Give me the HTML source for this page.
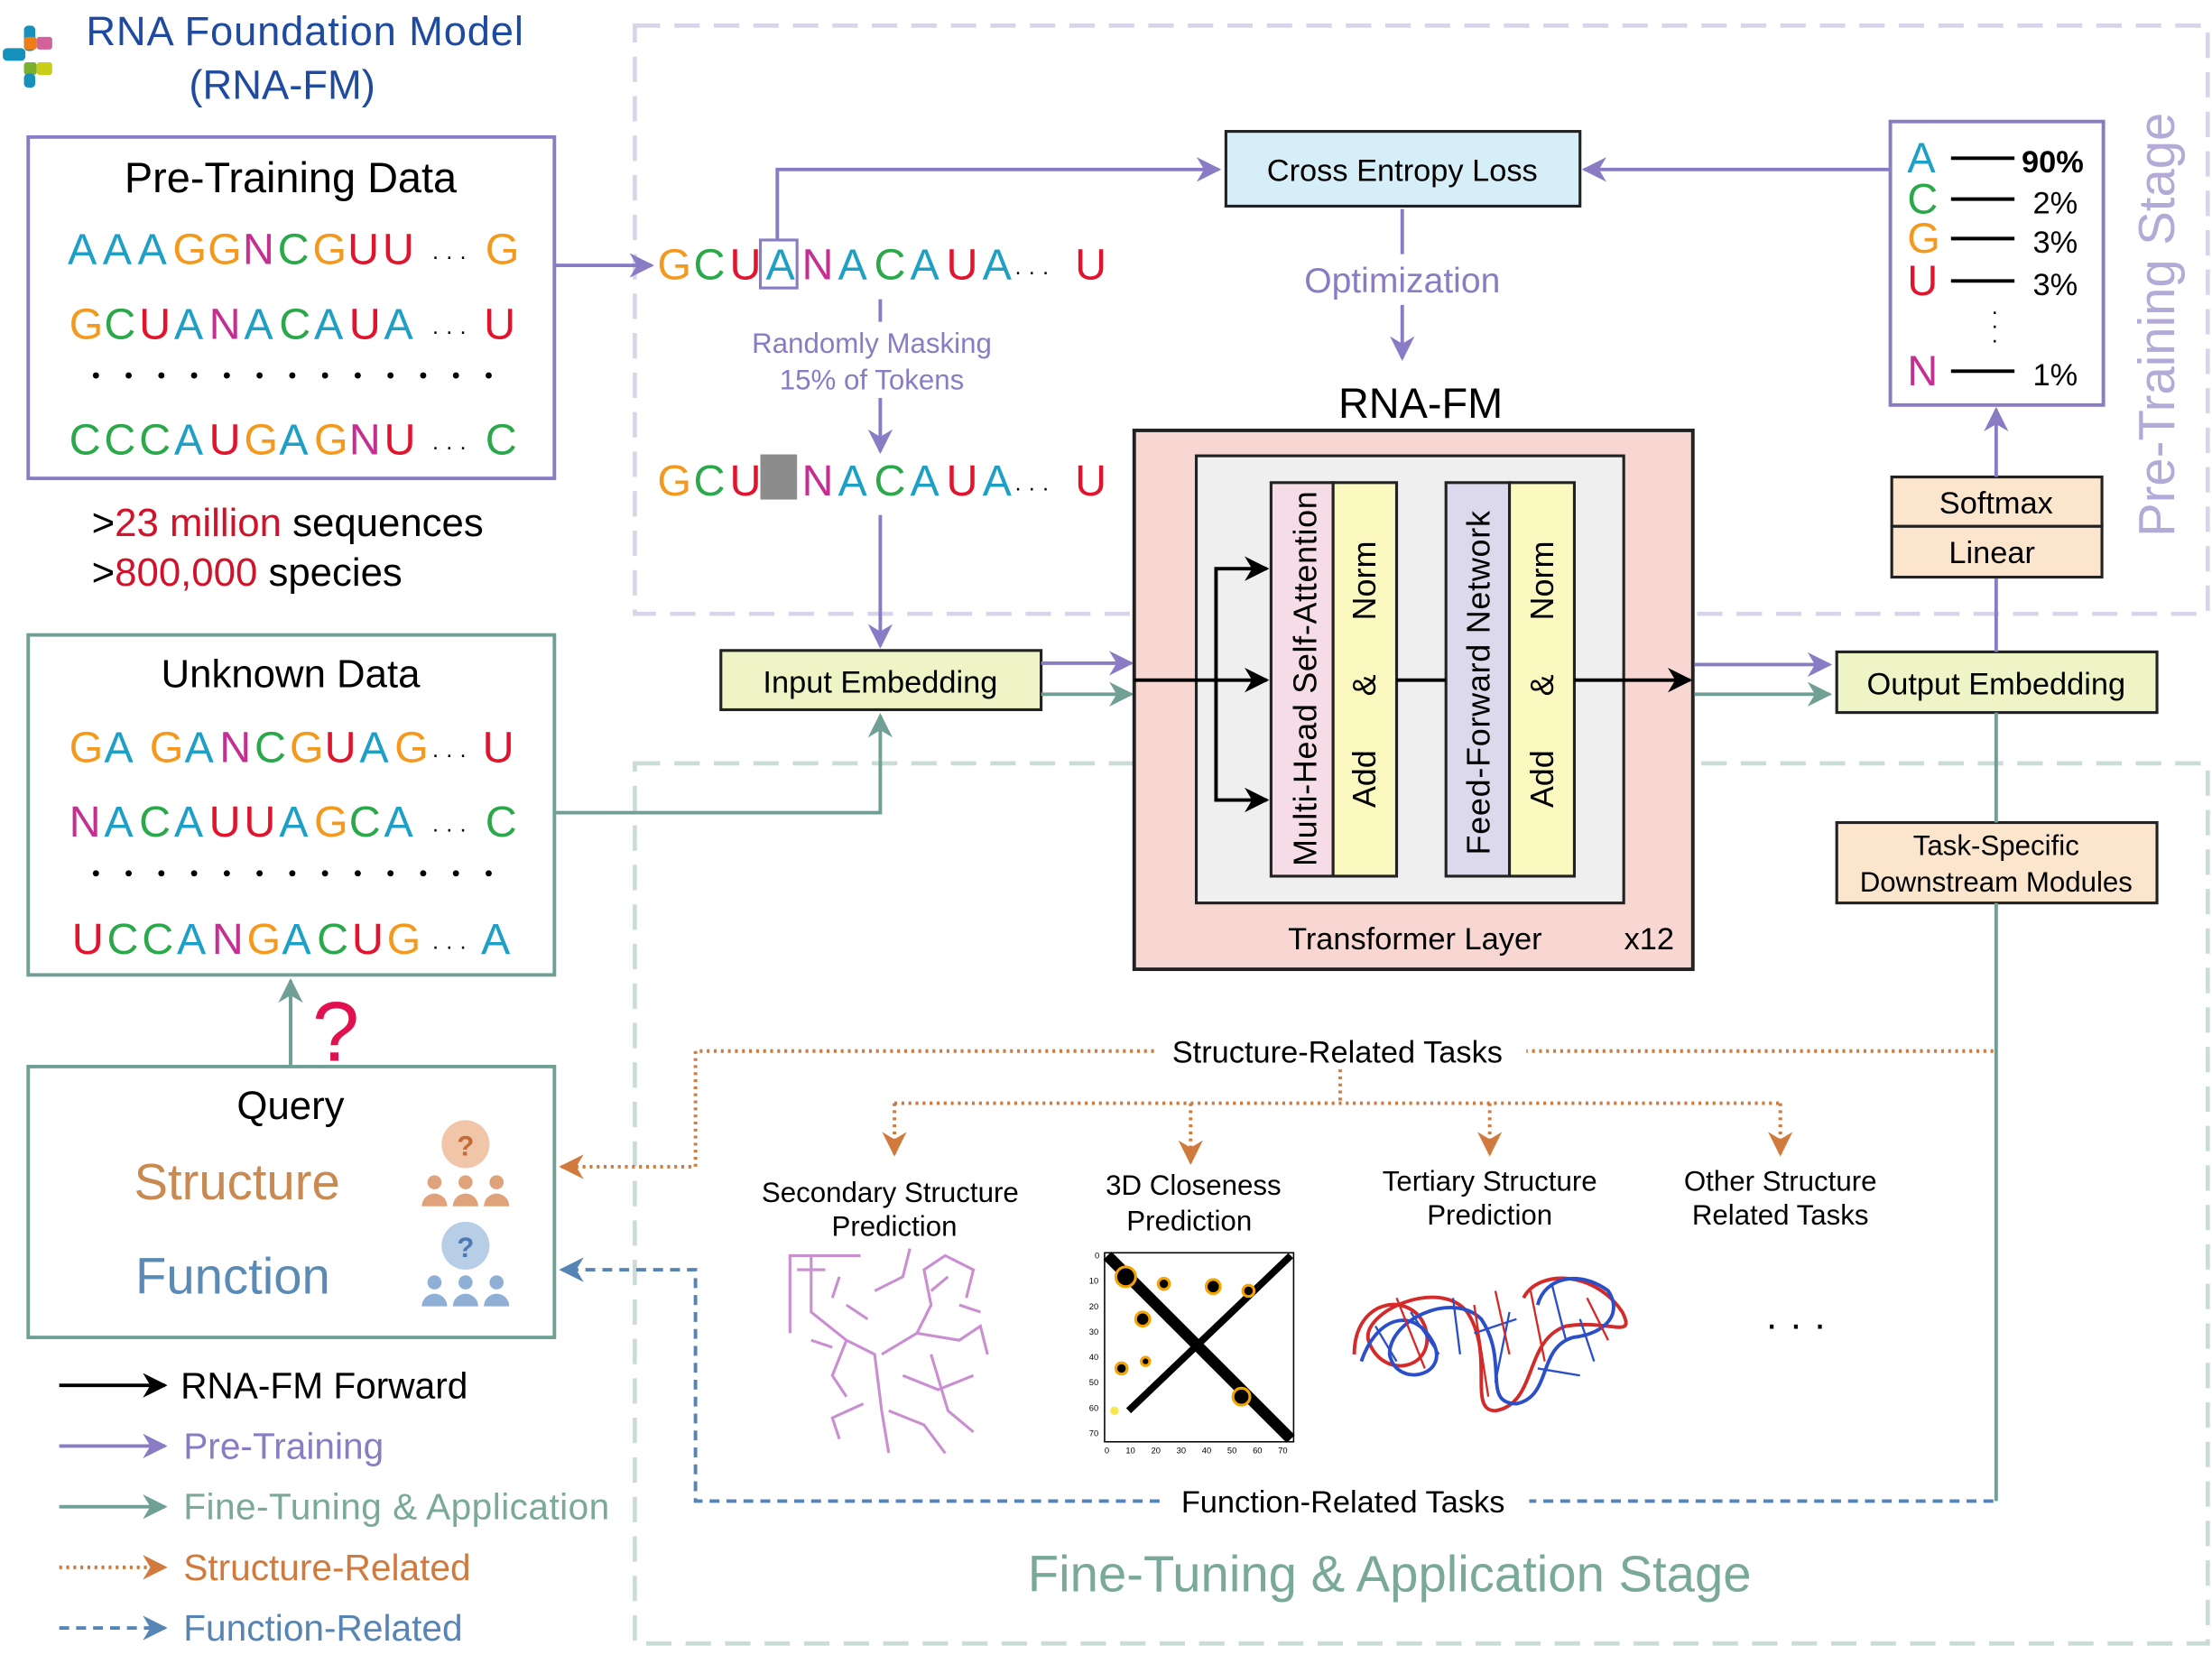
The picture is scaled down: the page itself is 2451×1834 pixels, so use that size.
<!DOCTYPE html>
<html><head><meta charset="utf-8"><style>
html,body{margin:0;padding:0;background:#fff;}
svg{display:block;font-family:"Liberation Sans",sans-serif;}
</style></head><body>
<svg id="root" width="2451" height="1834" viewBox="0 0 1568 1173" xmlns="http://www.w3.org/2000/svg">
<defs>
<marker id="mk" viewBox="0 0 10 10" refX="9" refY="5" markerWidth="7" markerHeight="7" orient="auto-start-reverse"><path d="M0,0 L10,5 L0,10 L3,5 z" fill="#000"/></marker>
<marker id="mp" viewBox="0 0 10 10" refX="9" refY="5" markerWidth="7" markerHeight="7" orient="auto-start-reverse"><path d="M0,0 L10,5 L0,10 L3,5 z" fill="#8a7cc4"/></marker>
<marker id="mt" viewBox="0 0 10 10" refX="9" refY="5" markerWidth="7" markerHeight="7" orient="auto-start-reverse"><path d="M0,0 L10,5 L0,10 L3,5 z" fill="#6f9f95"/></marker>
<marker id="mo" viewBox="0 0 10 10" refX="9" refY="5" markerWidth="7" markerHeight="7" orient="auto-start-reverse"><path d="M0,0 L10,5 L0,10 L3,5 z" fill="#d07a3d"/></marker>
<marker id="mb" viewBox="0 0 10 10" refX="9" refY="5" markerWidth="7" markerHeight="7" orient="auto-start-reverse"><path d="M0,0 L10,5 L0,10 L3,5 z" fill="#5685b5"/></marker>
</defs>

<rect x="450" y="18" width="1115" height="417" fill="none" stroke="#d8d5ea" stroke-width="3" stroke-dasharray="18,10"/>
<rect x="450" y="541" width="1115" height="624" fill="none" stroke="#c9dcd8" stroke-width="3" stroke-dasharray="18,10"/>
<text x="1541" y="230" font-size="36" fill="#b3aad8" text-anchor="middle" transform="rotate(-90 1541 230)">Pre-Training Stage</text>
<text x="985" y="1128" font-size="36" fill="#7aa89a" text-anchor="middle">Fine-Tuning &amp; Application Stage</text>

<g>
<rect x="17" y="18" width="8" height="18" rx="3" fill="#1591bb"/>
<rect x="2" y="34" width="16" height="9" rx="3" fill="#1591bb"/>
<rect x="17" y="26" width="9" height="9" rx="2" fill="#ef7d17"/>
<rect x="26" y="26" width="11" height="9" rx="2" fill="#d4629a"/>
<rect x="17" y="44" width="9" height="9" rx="2" fill="#7bb02c"/>
<rect x="26" y="44" width="11" height="9" rx="2" fill="#c7cf1a"/>
<rect x="17" y="52" width="8" height="10" rx="3" fill="#1591bb"/>
</g>
<text x="216" y="32" font-size="29" fill="#1e4aa0" text-anchor="middle" textLength="310">RNA Foundation Model</text>
<text x="200" y="70" font-size="29" fill="#1e4aa0" text-anchor="middle">(RNA-FM)</text>

<rect x="20" y="97" width="373" height="242" fill="none" stroke="#8a7cc4" stroke-width="2.5"/>
<text x="206" y="136" font-size="30" text-anchor="middle">Pre-Training Data</text>
<text x="65" y="380" font-size="28">&gt;<tspan fill="#d0122a">23 million</tspan> sequences</text>
<text x="65" y="415" font-size="28">&gt;<tspan fill="#d0122a">800,000</tspan> species</text>

<rect x="20" y="450" width="373" height="241" fill="none" stroke="#6f9f95" stroke-width="2.5"/>
<text x="206" y="487" font-size="28" text-anchor="middle">Unknown Data</text>

<g id="seqs"></g>

<line x1="393" y1="188" x2="462" y2="188" stroke="#8a7cc4" stroke-width="2.5" marker-end="url(#mp)"/>
<rect x="539" y="170" width="26" height="34" fill="none" stroke="#8a7cc4" stroke-width="2"/>
<polyline points="551,170 551,120 864,120" fill="none" stroke="#8a7cc4" stroke-width="2.5" marker-end="url(#mp)"/>
<line x1="624" y1="212" x2="624" y2="228" stroke="#8a7cc4" stroke-width="2.5"/>
<text x="618" y="250" font-size="20" fill="#8a7cc4" text-anchor="middle">Randomly Masking</text>
<text x="618" y="276" font-size="20" fill="#8a7cc4" text-anchor="middle">15% of Tokens</text>
<line x1="624" y1="282" x2="624" y2="320" stroke="#8a7cc4" stroke-width="2.5" marker-end="url(#mp)"/>
<rect x="539" y="322" width="26" height="32" fill="#8c8c8c"/>
<line x1="624" y1="365" x2="624" y2="458" stroke="#8a7cc4" stroke-width="2.5" marker-end="url(#mp)"/>
<polyline points="393,576 624,576 624,507" fill="none" stroke="#6f9f95" stroke-width="2.5" marker-end="url(#mt)"/>

<rect x="511" y="461" width="227" height="42" fill="#eef4c6" stroke="#222" stroke-width="2"/>
<text x="624" y="491" font-size="22" text-anchor="middle">Input Embedding</text>
<line x1="738" y1="470" x2="802" y2="470" stroke="#8a7cc4" stroke-width="2.5" marker-end="url(#mp)"/>
<line x1="738" y1="492" x2="802" y2="492" stroke="#6f9f95" stroke-width="2.5" marker-end="url(#mt)"/>

<rect x="869" y="93" width="251" height="53" fill="#d6eef7" stroke="#222" stroke-width="2"/>
<text x="994" y="128" font-size="22" text-anchor="middle">Cross Entropy Loss</text>
<line x1="1340" y1="120" x2="1123" y2="120" stroke="#8a7cc4" stroke-width="2.5" marker-end="url(#mp)"/>
<line x1="994" y1="148" x2="994" y2="180" stroke="#8a7cc4" stroke-width="2.5"/>
<text x="994" y="207" font-size="25" fill="#8a7cc4" text-anchor="middle">Optimization</text>
<line x1="994" y1="216" x2="994" y2="254" stroke="#8a7cc4" stroke-width="2.5" marker-end="url(#mp)"/>

<text x="1007" y="296" font-size="30" text-anchor="middle">RNA-FM</text>
<rect x="804" y="305" width="396" height="382" fill="#f8d7d3" stroke="#222" stroke-width="2.5"/>
<rect x="848" y="323" width="303" height="317" fill="#efefef" stroke="#222" stroke-width="2"/>
<rect x="901" y="342" width="44" height="279" fill="#f6dce7" stroke="#222" stroke-width="2"/>
<rect x="945" y="342" width="45" height="279" fill="#fbf8c0" stroke="#222" stroke-width="2"/>
<rect x="1025" y="342" width="45" height="279" fill="#dcd9ec" stroke="#222" stroke-width="2"/>
<rect x="1070" y="342" width="46" height="279" fill="#fbf8c0" stroke="#222" stroke-width="2"/>
<text transform="translate(933 481) rotate(-90)" font-size="23" text-anchor="middle" textLength="266">Multi-Head Self-Attention</text>
<text transform="translate(975 478) rotate(-90)" font-size="23" text-anchor="middle" xml:space="preserve">Add      &amp;      Norm</text>
<text transform="translate(1056 484) rotate(-90)" font-size="23" text-anchor="middle" textLength="244">Feed-Forward Network</text>
<text transform="translate(1101 478) rotate(-90)" font-size="23" text-anchor="middle" xml:space="preserve">Add      &amp;      Norm</text>
<text x="1003" y="673" font-size="22" text-anchor="middle">Transformer Layer</text>
<text x="1169" y="673" font-size="22" text-anchor="middle">x12</text>
<line x1="804" y1="482" x2="898" y2="482" stroke="#000" stroke-width="2.5" marker-end="url(#mk)"/>
<polyline points="862,482 862,403 898,403" fill="none" stroke="#000" stroke-width="2.5" marker-end="url(#mk)"/>
<polyline points="862,482 862,567 898,567" fill="none" stroke="#000" stroke-width="2.5" marker-end="url(#mk)"/>
<line x1="990" y1="482" x2="1025" y2="482" stroke="#000" stroke-width="2.5"/>
<line x1="1116" y1="482" x2="1198" y2="482" stroke="#000" stroke-width="2.5" marker-end="url(#mk)"/>
<line x1="1201" y1="471" x2="1297" y2="471" stroke="#8a7cc4" stroke-width="2.5" marker-end="url(#mp)"/>
<line x1="1201" y1="492" x2="1297" y2="492" stroke="#6f9f95" stroke-width="2.5" marker-end="url(#mt)"/>

<rect x="1302" y="462" width="227" height="43" fill="#eef4c6" stroke="#222" stroke-width="2"/>
<text x="1415" y="492" font-size="22" text-anchor="middle">Output Embedding</text>
<line x1="1415" y1="462" x2="1415" y2="410" stroke="#8a7cc4" stroke-width="2.5"/>
<rect x="1341" y="338" width="149" height="35" fill="#fbe5cc" stroke="#222" stroke-width="2"/>
<rect x="1341" y="373" width="149" height="36" fill="#fbe5cc" stroke="#222" stroke-width="2"/>
<text x="1415" y="364" font-size="22" text-anchor="middle">Softmax</text>
<text x="1412" y="399" font-size="22" text-anchor="middle">Linear</text>
<line x1="1415" y1="338" x2="1415" y2="290" stroke="#8a7cc4" stroke-width="2.5" marker-end="url(#mp)"/>
<rect x="1340" y="86" width="151" height="201" fill="none" stroke="#8a7cc4" stroke-width="2.5"/>
<g id="probs"></g>
<text x="1414" y="226" font-size="16" text-anchor="middle">·</text>
<text x="1414" y="236" font-size="16" text-anchor="middle">·</text>
<text x="1414" y="246" font-size="16" text-anchor="middle">·</text>

<rect x="1302" y="583" width="227" height="57" fill="#fbe5cc" stroke="#222" stroke-width="2"/>
<text x="1415" y="606" font-size="20" text-anchor="middle">Task-Specific</text>
<text x="1415" y="632" font-size="20" text-anchor="middle">Downstream Modules</text>
<line x1="1415" y1="505" x2="1415" y2="583" stroke="#6f9f95" stroke-width="2.5"/>
<line x1="1415" y1="640" x2="1415" y2="1064" stroke="#6f9f95" stroke-width="2.5"/>

<polyline points="1413,745 1082,745" fill="none" stroke="#d07a3d" stroke-width="2.5" stroke-dasharray="2,3"/>
<polyline points="818,745 493,745 493,827 398,827" fill="none" stroke="#d07a3d" stroke-width="2.5" stroke-dasharray="2,3" marker-end="url(#mo)"/>
<text x="948" y="753" font-size="22" text-anchor="middle">Structure-Related Tasks</text>
<line x1="950" y1="758" x2="950" y2="782" stroke="#d07a3d" stroke-width="2.5" stroke-dasharray="2,3"/>
<line x1="634" y1="782" x2="1262" y2="782" stroke="#d07a3d" stroke-width="2.5" stroke-dasharray="2,3"/>
<line x1="634" y1="782" x2="634" y2="818" stroke="#d07a3d" stroke-width="2.5" stroke-dasharray="2,3" marker-end="url(#mo)"/>
<line x1="844" y1="782" x2="844" y2="824" stroke="#d07a3d" stroke-width="2.5" stroke-dasharray="2,3" marker-end="url(#mo)"/>
<line x1="1056" y1="782" x2="1056" y2="818" stroke="#d07a3d" stroke-width="2.5" stroke-dasharray="2,3" marker-end="url(#mo)"/>
<line x1="1262" y1="782" x2="1262" y2="818" stroke="#d07a3d" stroke-width="2.5" stroke-dasharray="2,3" marker-end="url(#mo)"/>
<g font-size="20" text-anchor="middle">
<text x="631" y="852">Secondary Structure</text>
<text x="634" y="876">Prediction</text>
<text x="846" y="847">3D Closeness</text>
<text x="843" y="872">Prediction</text>
<text x="1056" y="844">Tertiary Structure</text>
<text x="1056" y="868">Prediction</text>
<text x="1262" y="844">Other Structure</text>
<text x="1262" y="868">Related Tasks</text>
</g>
<text x="1273" y="948" font-size="28" text-anchor="middle">· · ·</text>

<g fill="none" stroke="#c98fd1" stroke-width="2">
<path d="M560,945 L560,890 L610,890 M575,890 L575,930 L600,950 L620,960 L625,1000 L630,1030"/>
<path d="M600,950 L590,975 L600,990 M625,960 L650,945 L660,925 L655,900 L670,890 L690,900 L685,920"/>
<path d="M650,945 L680,950 L695,940 L700,960 M640,975 L665,985 L690,975 M630,1000 L655,1010 L670,1030"/>
<path d="M595,905 L590,920 M620,915 L640,905 L645,885 M612,995 L590,1005 L595,1020 M660,960 L672,1000 L690,1015"/>
<path d="M565,900 L585,900 M600,925 L615,935 M660,915 L672,905 M680,925 L695,930 M575,950 L590,955"/>
</g>
<g>
<rect x="783" y="888" width="134" height="134" fill="#fff" stroke="#000" stroke-width="1"/>
<line x1="785" y1="890" x2="915" y2="1020" stroke="#000" stroke-width="8"/>
<line x1="915" y1="890" x2="800" y2="1000" stroke="#000" stroke-width="5"/>
<circle cx="798" cy="905" r="7" fill="#000" stroke="#f4a300" stroke-width="2"/>
<circle cx="825" cy="910" r="4" fill="#000" stroke="#f4a300" stroke-width="2"/>
<circle cx="860" cy="912" r="5" fill="#000" stroke="#f4a300" stroke-width="2"/>
<circle cx="885" cy="915" r="4" fill="#000" stroke="#f4a300" stroke-width="2"/>
<circle cx="810" cy="935" r="5" fill="#000" stroke="#f4a300" stroke-width="2"/>
<circle cx="795" cy="970" r="4" fill="#000" stroke="#f4a300" stroke-width="2"/>
<circle cx="880" cy="990" r="6" fill="#000" stroke="#f4a300" stroke-width="2"/>
<circle cx="812" cy="965" r="3" fill="#000" stroke="#f4a300" stroke-width="2"/>
<circle cx="790" cy="1000" r="3" fill="#f7e84a"/>
<g font-size="6" fill="#000"><text x="776" y="892">0</text><text x="772" y="910">10</text><text x="772" y="928">20</text><text x="772" y="946">30</text><text x="772" y="964">40</text><text x="772" y="982">50</text><text x="772" y="1000">60</text><text x="772" y="1018">70</text>
<text x="783" y="1030">0</text><text x="798" y="1030">10</text><text x="816" y="1030">20</text><text x="834" y="1030">30</text><text x="852" y="1030">40</text><text x="870" y="1030">50</text><text x="888" y="1030">60</text><text x="906" y="1030">70</text></g>
</g>
<g fill="none" stroke-width="2.5">
<path d="M960,960 C960,920 1000,915 1010,940 C1020,970 980,980 970,950 C965,930 1020,905 1040,930 C1060,960 1040,1000 1060,1000 C1090,995 1080,950 1110,940 C1140,935 1160,950 1150,930 C1130,900 1090,900 1080,920" stroke="#d42a2a"/>
<path d="M965,965 C975,935 1000,925 1015,950 C1030,975 990,985 985,960 C985,935 1030,915 1050,935 C1070,965 1050,995 1075,995 C1100,990 1090,955 1115,948 C1140,945 1150,930 1140,915 C1120,900 1095,905 1090,925" stroke="#2a4fc8"/>
<path d="M1000,930 L1020,960 M1030,920 L1035,960 M1070,930 L1060,980 M1100,910 L1110,950 M1120,935 L1130,965 M975,940 L990,965 M1045,945 L1075,935 M1090,970 L1120,975" stroke="#2a4fc8" stroke-width="1.5"/>
<path d="M990,920 L1010,970 M1045,925 L1055,990 M1085,915 L1095,965 M1060,915 L1070,960 M1125,920 L1140,950" stroke="#d42a2a" stroke-width="1.5"/>
</g>

<line x1="1413" y1="1064" x2="1084" y2="1064" stroke="#5685b5" stroke-width="2.5" stroke-dasharray="7,5"/>
<polyline points="822,1064 493,1064 493,900 398,900" fill="none" stroke="#5685b5" stroke-width="2.5" stroke-dasharray="7,5" marker-end="url(#mb)"/>
<text x="952" y="1072" font-size="22" text-anchor="middle">Function-Related Tasks</text>

<rect x="20" y="756" width="373" height="192" fill="none" stroke="#6f9f95" stroke-width="2.5"/>
<text x="206" y="793" font-size="28" text-anchor="middle">Query</text>
<text x="168" y="850" font-size="36" fill="#c98a52" text-anchor="middle">Structure</text>
<text x="165" y="917" font-size="36" fill="#5b8bb5" text-anchor="middle">Function</text>
<g fill="#e0a27a">
<circle cx="330" cy="811" r="17" fill="#f0c5a8"/><text x="330" y="819" font-size="20" text-anchor="middle" fill="#c66a3a" font-weight="bold">?</text>
<circle cx="308" cy="838" r="5"/><path d="M299,855 a9,9 0 0 1 18,0 z"/>
<circle cx="330" cy="838" r="5"/><path d="M321,855 a9,9 0 0 1 18,0 z"/>
<circle cx="352" cy="838" r="5"/><path d="M343,855 a9,9 0 0 1 18,0 z"/>
</g>
<g fill="#8fb0d4">
<circle cx="330" cy="883" r="17" fill="#b8cde6"/><text x="330" y="891" font-size="20" text-anchor="middle" fill="#4c7bb0" font-weight="bold">?</text>
<circle cx="308" cy="909" r="5"/><path d="M299,926 a9,9 0 0 1 18,0 z"/>
<circle cx="330" cy="909" r="5"/><path d="M321,926 a9,9 0 0 1 18,0 z"/>
<circle cx="352" cy="909" r="5"/><path d="M343,926 a9,9 0 0 1 18,0 z"/>
</g>
<line x1="206" y1="756" x2="206" y2="695" stroke="#6f9f95" stroke-width="2.5" marker-end="url(#mt)"/>
<text x="238" y="752" font-size="60" fill="#e0114e" text-anchor="middle">?</text>

<g>
<line x1="42" y1="982" x2="117" y2="982" stroke="#000" stroke-width="2.5" marker-end="url(#mk)"/>
<text x="128" y="991" font-size="26">RNA-FM Forward</text>
<line x1="42" y1="1025" x2="117" y2="1025" stroke="#8a7cc4" stroke-width="2.5" marker-end="url(#mp)"/>
<text x="130" y="1034" font-size="26" fill="#8a7cc4">Pre-Training</text>
<line x1="42" y1="1068" x2="117" y2="1068" stroke="#6f9f95" stroke-width="2.5" marker-end="url(#mt)"/>
<text x="130" y="1077" font-size="26" fill="#7aa89a" textLength="302">Fine-Tuning &amp; Application</text>
<line x1="42" y1="1111" x2="117" y2="1111" stroke="#d07a3d" stroke-width="2.5" stroke-dasharray="2,3" marker-end="url(#mo)"/>
<text x="130" y="1120" font-size="26" fill="#d07a3d">Structure-Related</text>
<line x1="42" y1="1154" x2="117" y2="1154" stroke="#5685b5" stroke-width="2.5" stroke-dasharray="7,5" marker-end="url(#mb)"/>
<text x="130" y="1163" font-size="26" fill="#5685b5">Function-Related</text>
</g>
</svg>
<script>
const NS = "http://www.w3.org/2000/svg";
const COL = {A:"#1e9fc6", C:"#2aa84a", G:"#f39a1e", U:"#e0142c", N:"#c42f92", " ":"#000"};
const seqRows = [
  {s:"AAAGGNCGUU", last:"G", x:48, y:187, step:24.8, dx:306, lx:344},
  {s:"GCUANACAUA", last:"U", x:49, y:240, step:24.8, dx:306, lx:343},
  {s:"CCCAUGAGNU", last:"C", x:49, y:322, step:24.8, dx:306, lx:344},
  {s:"GA GANCGUAG", last:"U", x:49, y:540, step:24.8, dx:306, lx:342},
  {s:"NACAUUAGCA", last:"C", x:49, y:593, step:24.8, dx:306, lx:344},
  {s:"UCCANGACUG", last:"A", x:51, y:676, step:24.8, dx:306, lx:341},
  {s:"GCUANACAUA", last:"U", x:466, y:198, step:25.6, dx:719, lx:762},
  {s:"GCU NACAUA", last:"U", x:466, y:351, step:25.6, dx:719, lx:762}
];
const dotRows = [{x:68, y:266}, {x:68, y:619}];
const probLetters = ["A","C","G","U","N"];
const probValues = ["90%","2%","3%","3%","1%"];
const probY = [112, 141, 169, 199, 263];
const g = document.getElementById("seqs");
seqRows.forEach((r) => {
  const t = document.createElementNS(NS, "text");
  
  
  t.setAttribute("y", r.y); t.setAttribute("font-size", "31");
  let cx = r.x;
  [...r.s].forEach((ch, i) => {
    if (ch === " ") { cx += r.step * (r.s.length > 10 ? 0.3 : 1); return; }
    const sp = document.createElementNS(NS, "tspan");
    sp.setAttribute("x", cx); sp.setAttribute("fill", COL[ch]);
    sp.textContent = ch; t.appendChild(sp);
    cx += r.step;
  });
  const d = document.createElementNS(NS, "tspan");
  d.setAttribute("x", r.dx); d.setAttribute("font-size", "16"); d.textContent = "· · ·"; t.appendChild(d);
  const l = document.createElementNS(NS, "tspan");
  l.setAttribute("x", r.lx); l.setAttribute("font-size", "31"); l.setAttribute("fill", COL[r.last]); l.textContent = r.last; t.appendChild(l);
  g.appendChild(t);
});
dotRows.forEach(r => {
  for (let i = 0; i < 13; i++) {
    const c = document.createElementNS(NS, "circle");
    
    
    c.setAttribute("cx", r.x + i * 23.2); c.setAttribute("cy", r.y); c.setAttribute("r", "2.2"); c.setAttribute("fill", "#000");
    g.appendChild(c);
  }
});
const pg = document.getElementById("probs");
probLetters.forEach((ch, i) => {
  const t = document.createElementNS(NS, "text");
  
  
  t.setAttribute("x", 1352); t.setAttribute("y", probY[i] + 10); t.setAttribute("font-size", "30"); t.setAttribute("fill", COL[ch]);
  t.textContent = ch; pg.appendChild(t);
  const ln = document.createElementNS(NS, "line");
  
  
  ln.setAttribute("x1", 1383); ln.setAttribute("x2", 1428); ln.setAttribute("y1", probY[i]); ln.setAttribute("y2", probY[i]);
  ln.setAttribute("stroke", "#000"); ln.setAttribute("stroke-width", "2.5"); pg.appendChild(ln);
  const v = document.createElementNS(NS, "text");
  
  
  v.setAttribute("x", i === 0 ? 1433 : 1441); v.setAttribute("y", probY[i] + 10); v.setAttribute("font-size", "22");
  if (i === 0) v.setAttribute("font-weight", "bold");
  v.textContent = probValues[i]; pg.appendChild(v);
});
</script>
</body></html>
